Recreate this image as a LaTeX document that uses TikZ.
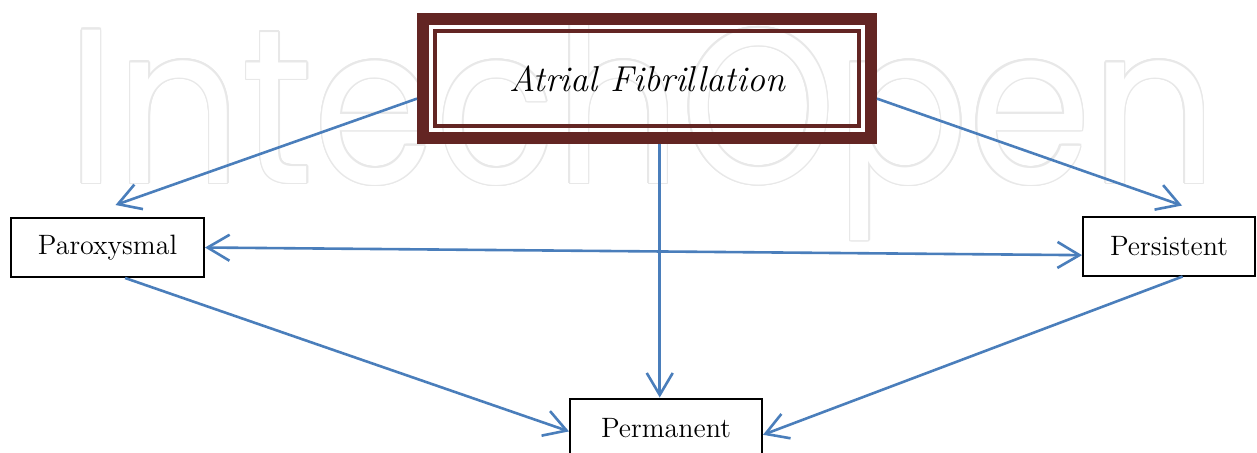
\documentclass[tikz,border=0pt]{standalone}
\usepackage{fontspec}
\newfontfamily\wmfont{Poppins}
\usetikzlibrary{arrows.meta}
\definecolor{maroon}{HTML}{632523}
\definecolor{arrowblue}{HTML}{4A7EBB}
\definecolor{wmgray}{HTML}{E8E8E8}
\begin{document}
\begin{tikzpicture}[x=0.5pt,y=-0.5pt,
  >={Straight Barb[length=11pt,width=13pt]},
  box/.style={draw=black,line width=1pt,minimum height=29.5pt,inner sep=0pt,font=\fontsize{14}{16}\selectfont},
  link/.style={draw=arrowblue,line width=1.3pt},
  wmark/.style={font=\wmfont\fontsize{110}{110}\selectfont,anchor=base west,inner sep=0pt}]
  \useasboundingbox (0,0) rectangle (1257,452);

  % watermark
  \foreach \a [count=\i] in {0,22.5,...,337.5}
    \node[wmark,text=wmgray] (wm\i) at ([shift={(\a:1.5)}]67,183) {\scalebox{0.895}[1]{IntechOpen}};
  \node[wmark,text=white] (wm) at (67,183) {\scalebox{0.895}[1]{IntechOpen}};

  \node[draw=maroon,line width=6pt,minimum width=224pt,minimum height=59.5pt,
        font=\itshape\fontsize{18}{20}\selectfont] (af) at (647,78.5) {Atrial Fibrillation};
  \draw[maroon,line width=2pt] ([shift={(18,18)}]af.north west) rectangle ([shift={(-18,-18)}]af.south east);

  \node[box,minimum width=96.5pt] (parox) at (107.5,247.5) {Paroxysmal};
  \node[box,minimum width=86pt] (persist) at (1169,246) {Persistent};
  \node[box,minimum width=96pt] (perm) at (666,428) {Permanent};

  \draw[link,->] (af.185) -- ([shift={(8,-12)}]parox.north);
  \draw[link,->] (af.355) -- ([shift={(13,-10)}]persist.north);
  \draw[link,->] (af.281) -- (af.281 |- perm.north);
  \draw[link,<->] (parox.east) -- (persist.186.6);
  \draw[link,->] (parox.300) -- (perm.182);
  \draw[link,->] (persist.294) -- (perm.356);
\end{tikzpicture}
\end{document}
